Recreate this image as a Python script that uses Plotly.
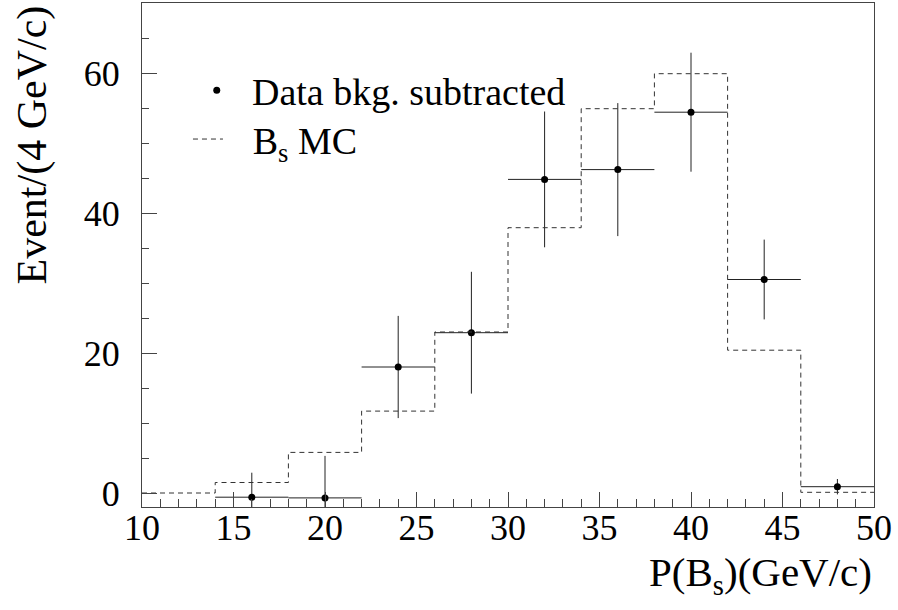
import plotly.graph_objects as go

# Histogram binning (GeV/c)
bin_edges = [10, 14, 18, 22, 26, 30, 34, 38, 42, 46, 50]
# B_s MC (dashed histogram), one value per bin
mc_values = [0.0, 1.5, 5.8, 11.7, 23.0, 37.9, 54.9, 59.9, 20.4, 0.1]

# Data, background subtracted (bin centres, values, errors)
data_x = [16, 20, 24, 28, 32, 36, 40, 44, 48]
data_y = [-0.6, -0.7, 18.0, 22.9, 44.8, 46.2, 54.4, 30.5, 0.9]
data_err = [3.5, 6.0, 7.3, 8.7, 9.7, 9.5, 8.5, 5.7, 1.1]
half_bin = [2] * len(data_x)

FONT = "Liberation Serif, Times New Roman, serif"

fig = go.Figure()

fig.add_trace(go.Scatter(
    x=data_x, y=data_y, mode="markers",
    name="\u2009\u2009Data bkg. subtracted",
    legend="legend",
    marker=dict(color="black", size=7, symbol="circle"),
    error_y=dict(type="data", array=data_err, visible=True,
                 color="#222222", thickness=1, width=0),
    error_x=dict(type="data", array=half_bin, visible=True,
                 color="#222222", thickness=1, width=0),
))

fig.add_trace(go.Scatter(
    x=bin_edges, y=mc_values + [mc_values[-1]],
    mode="lines", line_shape="hv",
    name="\u00a0\u2009\u2009B<sub>s</sub> MC",
    legend="legend2",
    line=dict(color="#333333", width=1, dash="5px,4px"),
))

axis_common = dict(
    showline=True, linecolor="#444444", linewidth=1, mirror=True,
    ticks="inside", tickcolor="#444444", tickwidth=1, ticklen=15,
    showgrid=False, zeroline=False,
    tickfont=dict(family=FONT, size=36, color="black"),
)

fig.update_xaxes(
    range=[10, 50], dtick=5, tick0=10,
    minor=dict(dtick=1, ticks="inside", ticklen=8, tickcolor="#444444"),
    ticklabelstandoff=-11,
    **axis_common,
)
fig.update_yaxes(
    range=[-2, 70], dtick=20, tick0=0,
    minor=dict(dtick=5, ticks="inside", ticklen=7, tickcolor="#444444"),
    ticklabelstandoff=14,
    **axis_common,
)

fig.add_annotation(
    text="Event/(4 GeV/c)", textangle=-90, showarrow=False,
    xref="paper", yref="paper", x=-0.149, y=1.0,
    xanchor="center", yanchor="top",
    font=dict(family=FONT, size=42, color="black"),
)
fig.add_annotation(
    text="P(B<sub>s</sub>)(GeV/c)", showarrow=False,
    xref="paper", yref="paper", x=1.0, y=-0.134,
    xanchor="right", yanchor="middle",
    font=dict(family=FONT, size=41, color="black"),
)

legend_font = dict(family=FONT, size=38, color="black")
fig.update_layout(
    width=898, height=610,
    margin=dict(l=142, r=24, t=3, b=103),
    paper_bgcolor="white", plot_bgcolor="white",
    showlegend=True,
    legend=dict(x=0.0748, y=0.889, xanchor="left", yanchor="top",
                bgcolor="rgba(0,0,0,0)", font=legend_font),
    legend2=dict(x=0.0628, y=0.792, xanchor="left", yanchor="top",
                 bgcolor="rgba(0,0,0,0)", font=legend_font),
)

fig.write_html("out.html")
